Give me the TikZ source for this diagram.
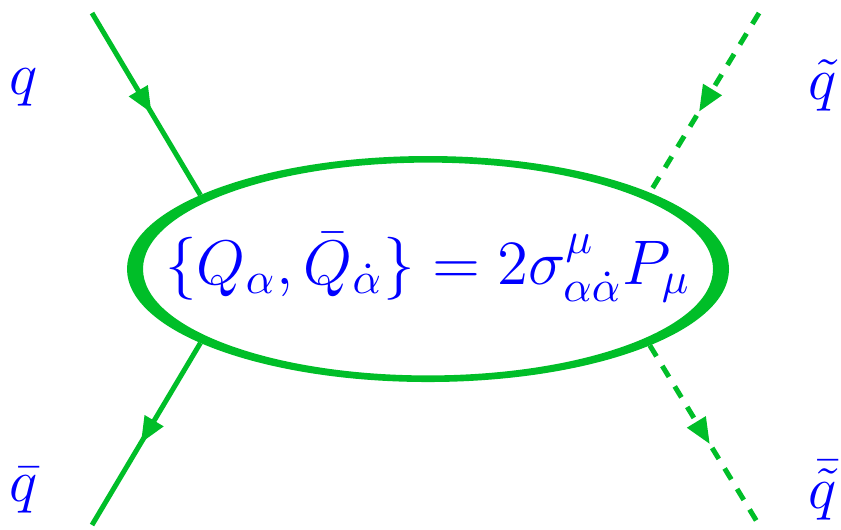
\documentclass[tikz,border=0pt]{standalone}
\usepackage{fix-cm}
\usepackage{amsmath,amssymb}
\usepackage{tikz}
\usetikzlibrary{arrows.meta,positioning,shapes.geometric,decorations.markings}

\definecolor{qgreen}{RGB}{0,190,40}
\definecolor{qblue}{RGB}{0,0,255}

\tikzset{
  fermion/.style={qgreen, line width=1.25pt, postaction={decorate},
    decoration={markings, mark=at position 0.55 with {\arrow{Triangle[length=6.5pt,width=5.2pt]}}}},
  scalar/.style={fermion, dash pattern=on 3.2pt off 2.8pt},
  lbl/.style={text=qblue, inner sep=0pt, anchor=base, font=\fontsize{15}{18}\selectfont},
  blob/.style={ellipse, minimum width=150.5pt, minimum height=56.5pt, inner sep=0pt, outer sep=0pt},
}

\begin{document}
\begin{tikzpicture}[x=0.25pt, y=-0.25pt]
    \useasboundingbox (0,0) rectangle (841,529);

    % the vertex
    \node[blob] (susy) at (428,269) {};
    \fill[qgreen, even odd rule] (susy.center) ellipse [x radius=75.25pt, y radius=28.25pt]
        (susy.center) ellipse [x radius=71.25pt, y radius=26.6pt];
    \node[lbl, font=\fontsize{15.75}{19}\selectfont] (alg) at (428,284)
        {$\{Q_\alpha,\bar{Q}_{\dot\alpha}\}=2\sigma^\mu_{\alpha\dot\alpha}P_\mu$};

    % external legs
    \coordinate (qin) at (92,13);
    \coordinate (qbout) at (92,525);
    \coordinate (sqin) at (759,13);
    \coordinate (sqbout) at (759,525);
    \draw[fermion] (qin) -- (susy.162);
    \draw[fermion] (susy.198) -- (qbout);
    \draw[scalar] (sqin) -- (susy.19);
    \draw[scalar] (susy.341) -- (sqbout);

    % labels
    \node[lbl] (q) at (24,94) {$q$};
    \node[lbl] (qb) at (24,501) {$\bar{q}$};
    \node[lbl] (sq) at (823,99) {$\tilde{q}$};
    \node[lbl] (sqb) at (823,508) {$\bar{\tilde{q}}$};
\end{tikzpicture}
\end{document}
